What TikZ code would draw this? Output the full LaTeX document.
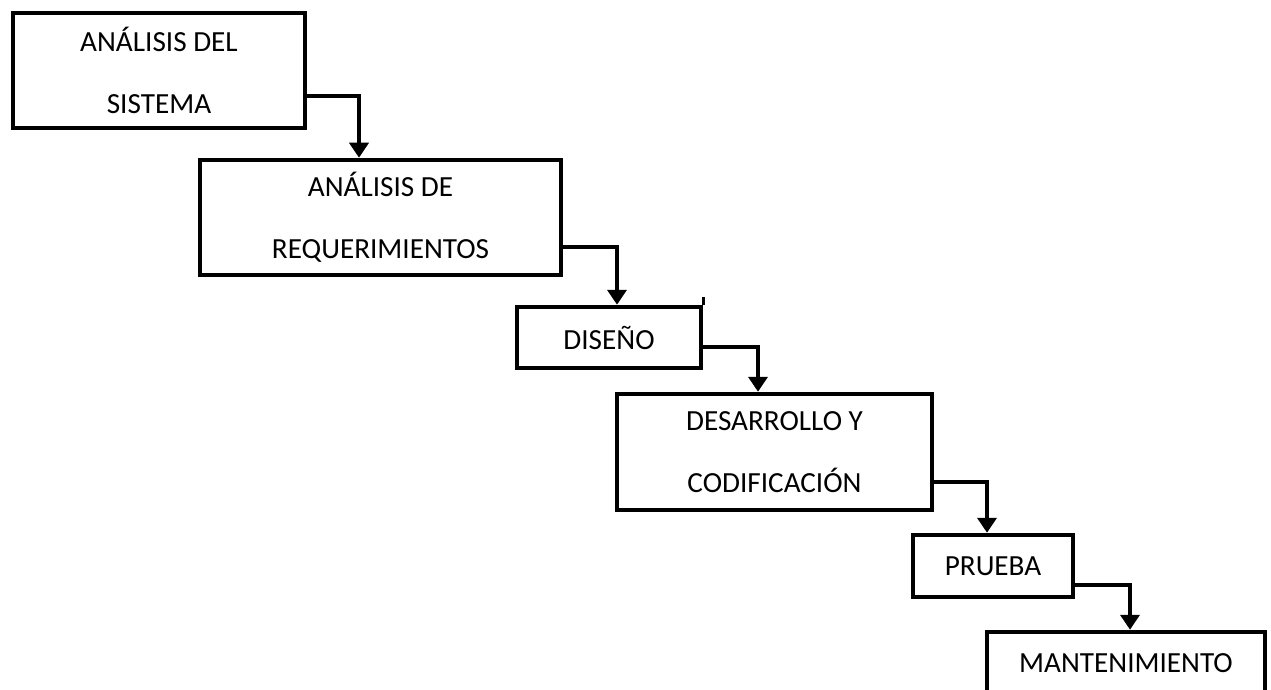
\documentclass[tikz,border=0pt]{standalone}
\usepackage{fontspec}
\setmainfont{Carlito}
\usetikzlibrary{arrows.meta}
\begin{document}
\begin{tikzpicture}[x=1pt,y=-1pt]
	\tikzset{s/.style={draw,line width=4.5pt,rectangle,align=center,inner sep=0pt,font=\fontsize{29.2}{62}\selectfont}}
	\useasboundingbox(0,0)rectangle(1271,690);
	\path(159,70.5)node[s,minimum width=292pt,minimum height=115pt](A){ANÁLISIS DEL\\SISTEMA};
	\path(380.5,217.5)node[s,minimum width=361pt,minimum height=115pt](B){ANÁLISIS DE\\REQUERIMIENTOS};
	\path(609,337.5)node[s,minimum width=184pt,minimum height=61pt](C){DISEÑO};
	\path(774.5,452)node[s,minimum width=315pt,minimum height=116pt](D){DESARROLLO Y\\CODIFICACIÓN};
	\path(993,566)node[s,minimum width=160pt,minimum height=62pt](E){PRUEBA};
	\path(1126,663)node[s,minimum width=278pt,minimum height=62pt](F){MANTENIMIENTO};
	\draw[line width=3.5pt](C.north east)--++(0,-8);
	\foreach \x/\y/\dy/\dx in {
		A/B/-25.5pt/-21.5pt,
		B/C/-29.5pt/8pt,
		C/D/-9.5pt/-16.5pt,
		D/E/-30pt/-6pt,
		E/F/-19pt/4pt}
	\draw[line width=4pt,-{Triangle[width=19pt,length=15pt]}]([yshift=\dy]\x.east)-|([xshift=\dx]\y.north);
\end{tikzpicture}
\end{document}
